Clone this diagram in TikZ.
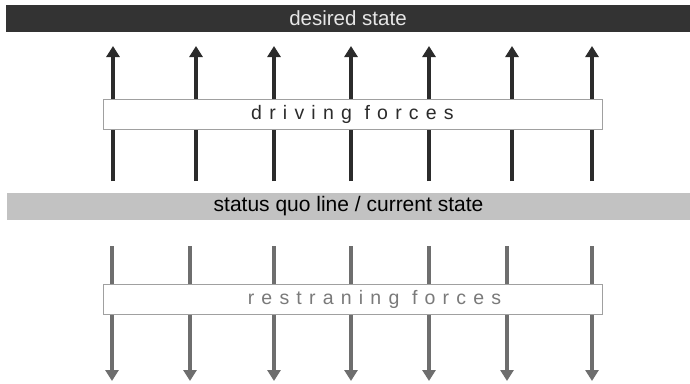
\documentclass[tikz,border=0pt]{standalone}
\usepackage{fontspec}
\setmainfont{Liberation Sans}
\usetikzlibrary{arrows.meta}
\definecolor{bardark}{HTML}{333333}
\definecolor{barlight}{HTML}{C2C2C2}
\definecolor{drivecol}{HTML}{2B2B2B}
\definecolor{restraincol}{HTML}{6E6E6E}
\definecolor{boxedge}{HTML}{A0A0A0}
\definecolor{desiredtext}{HTML}{E6E6E6}
\definecolor{restraintext}{HTML}{7A7A7A}
\tikzset{
  statebar/.style={rectangle, inner sep=0pt, minimum height=27pt},
  forcebox/.style={rectangle, draw=boxedge, line width=1pt, fill=white, inner sep=0pt,
    minimum width=499pt, minimum height=30pt,
    font=\fontsize{19.5}{22}\selectfont\addfontfeature{LetterSpace=37}},
  driving/.style={draw=drivecol, line width=3.6pt, -{Triangle[width=13pt,length=11pt]}},
  restraining/.style={draw=restraincol, line width=3.6pt, -{Triangle[width=13pt,length=11pt]}},
}
\begin{document}
\begin{tikzpicture}[x=1pt,y=-1pt]
\useasboundingbox (0,0) rectangle (690,383);
\fill[white] (0,0) rectangle (690,383);

% state bars
\node[statebar, fill=bardark, text=desiredtext, minimum width=684pt,
  font=\fontsize{20.5}{22}\selectfont] (desired) at (348,18.5) {desired state};
\node[statebar, fill=barlight, text=black, minimum width=683pt,
  font=\fontsize{21}{22}\selectfont] (statusquo) at (348.5,206.5) {status quo line / current state};

% driving forces: arrows pointing up to the desired state
\foreach \i/\x in {1/113,2/196,3/274,4/351,5/429,6/512,7/592}{
  \coordinate (db\i) at (\x,181);
  \coordinate (dt\i) at (\x,46);
  \draw[driving] (db\i) -- (dt\i);
}
% restraining forces: arrows pointing down away from it
\foreach \i/\x in {1/112,2/190,3/274,4/351,5/429,6/507,7/592}{
  \coordinate (rt\i) at (\x,246);
  \coordinate (rb\i) at (\x,381);
  \draw[restraining] (rt\i) -- (rb\i);
}

% labelled boxes across the arrows (the lower label sits right of centre)
\node[forcebox, text=drivecol] (drive) at (352.5,114.5) {driving forces};
\node[forcebox, text=restraintext] (restrain) at (352.5,299) {\hspace*{44pt}restraning forces};
\end{tikzpicture}
\end{document}
